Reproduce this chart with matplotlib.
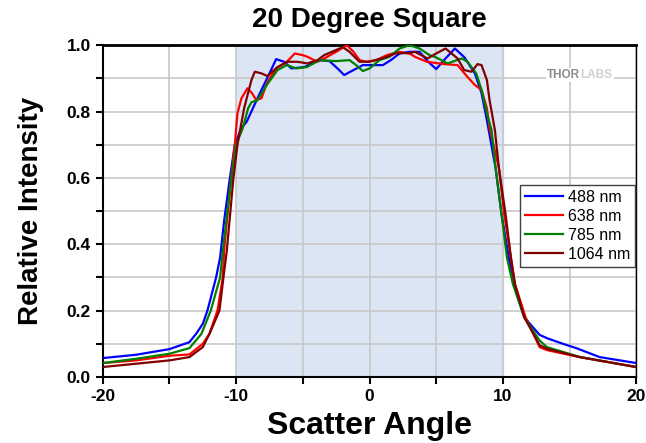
import matplotlib
matplotlib.use('Agg')
import matplotlib.pyplot as plt
from matplotlib.ticker import MultipleLocator, FormatStrFormatter

plt.rcParams['font.family'] = ['Liberation Sans', 'DejaVu Sans']
plt.rcParams['axes.unicode_minus'] = False

# 488 nm
x_488 = [-20, -17.5, -15, -13.5, -13.0, -12.5, -12.15, -11.5, -11.2, -10.9, -10.5, -10.1,
         -9.6, -9.2, -8.4, -7.5, -7.0, -6.4, -5.85, -4.9, -3.75, -3.0, -2.4, -1.9, -1.2,
         -0.5, 1.0, 1.6, 2.25, 3.0, 3.75, 4.4, 5.0, 5.7, 6.4, 7.1, 7.9, 8.4, 8.8, 9.45,
         9.9, 10.4, 10.8, 11.6, 12.75, 13.3, 14.5, 15.5, 17.25, 20]
y_488 = [0.057, 0.067, 0.084, 0.105, 0.13, 0.16, 0.2, 0.30, 0.36, 0.47, 0.59, 0.70,
         0.75, 0.77, 0.84, 0.915, 0.958, 0.95, 0.93, 0.934, 0.955, 0.952, 0.93, 0.91, 0.925,
         0.94, 0.94, 0.955, 0.975, 0.98, 0.98, 0.95, 0.928, 0.96, 0.99, 0.964, 0.915, 0.855, 0.774, 0.63,
         0.49, 0.37, 0.28, 0.18, 0.127, 0.117, 0.10, 0.087, 0.06, 0.042]

# 638 nm
x_638 = [-20, -17.5, -15, -13.5, -12.5, -12.0, -11.4, -11.0, -10.9, -10.5, -10.1, -9.9,
         -9.6, -9.15, -8.8, -8.5, -8.1, -7.7, -7.0, -6.2, -5.6, -5.0, -4.65, -3.9, -3.4,
         -2.5, -1.7, -1.2, -0.75, -0.25, 0.5, 1.3, 2.2, 3.0, 3.4, 4.3, 5.6, 6.6, 7.35, 7.9,
         8.4, 8.8, 9.0, 9.7, 10.1, 10.6, 10.9, 11.7, 12.75, 13.3, 15.75, 20]
y_638 = [0.042, 0.05, 0.064, 0.068, 0.10, 0.13, 0.20, 0.30, 0.38, 0.55, 0.70, 0.795,
         0.84, 0.87, 0.855, 0.835, 0.84, 0.885, 0.93, 0.95, 0.975, 0.97, 0.965, 0.95, 0.96,
         0.98, 1.0, 0.98, 0.955, 0.95, 0.955, 0.97, 0.98, 0.975, 0.965, 0.95, 0.943, 0.94, 0.904, 0.88,
         0.865, 0.81, 0.75, 0.63, 0.49, 0.36, 0.28, 0.18, 0.09, 0.081, 0.06, 0.03]

# 785 nm
x_785 = [-20, -17.5, -15, -13.5, -12.6, -11.9, -11.2, -11.0, -10.35, -10.0, -9.5, -9.1,
         -8.85, -8.4, -7.7, -6.9, -6.2, -5.5, -4.7, -3.75, -2.5, -1.5, -1.0, -0.5, 0.0,
         0.75, 1.5, 2.25, 3.0, 3.75, 4.5, 5.0, 5.85, 6.9, 7.35, 8.0, 8.4, 8.8, 9.15, 9.45,
         9.9, 10.3, 10.75, 11.6, 12.75, 13.3, 15.8, 20]
y_785 = [0.042, 0.055, 0.07, 0.087, 0.13, 0.2, 0.30, 0.38, 0.6, 0.70, 0.75, 0.81,
         0.828, 0.834, 0.88, 0.925, 0.94, 0.93, 0.934, 0.955, 0.952, 0.955, 0.94, 0.922, 0.93,
         0.955, 0.965, 0.99, 1.0, 0.99, 0.97, 0.963, 0.945, 0.96, 0.95, 0.915, 0.865, 0.795, 0.744, 0.63,
         0.49, 0.36, 0.28, 0.18, 0.11, 0.09, 0.06, 0.03]

# 1064 nm
x_1064 = [-20, -17.5, -15, -13.5, -12.5, -12.0, -11.25, -10.95, -10.7, -10.2, -9.9, -9.4,
          -8.85, -8.6, -8.1, -7.65, -6.9, -6.15, -5.4, -4.65, -3.9, -3.4, -2.0, -1.5, -0.75,
          0.0, 1.25, 2.0, 3.0, 3.4, 4.35, 5.0, 5.7, 6.6, 7.1, 7.65, 8.1, 8.4, 8.8, 9.0,
          9.4, 9.7, 10.2, 10.6, 10.9, 11.6, 12.75, 13.3, 15.75, 20]
y_1064 = [0.03, 0.04, 0.05, 0.06, 0.09, 0.13, 0.2, 0.3, 0.38, 0.6, 0.7, 0.81,
          0.895, 0.92, 0.915, 0.907, 0.934, 0.95, 0.95, 0.945, 0.955, 0.97, 0.994, 0.98, 0.95,
          0.95, 0.964, 0.976, 0.976, 0.98, 0.96, 0.975, 0.99, 0.96, 0.925, 0.92, 0.943, 0.94, 0.895, 0.834,
          0.744, 0.63, 0.49, 0.36, 0.28, 0.18, 0.096, 0.085, 0.06, 0.03]

series = [
    (x_488, y_488, '488 nm', '#0000ff'),
    (x_638, y_638, '638 nm', '#ff0000'),
    (x_785, y_785, '785 nm', '#008000'),
    (x_1064, y_1064, '1064 nm', '#800000'),
]

fig = plt.figure(figsize=(6.46, 4.43), dpi=100)
ax = fig.add_axes([0.159, 0.149, 0.826, 0.749])

# shaded +/-10 degree band
ax.axvspan(-10, 10, color='#dce5f4', zorder=0)

for xs, ys, lab, col in series:
    ax.plot(xs, ys, color=col, lw=1.6, label=lab, zorder=3)

ax.set_xlim(-20, 20)
ax.set_ylim(0, 1.0)
ax.xaxis.set_major_locator(MultipleLocator(10))
ax.xaxis.set_minor_locator(MultipleLocator(5))
ax.yaxis.set_major_locator(MultipleLocator(0.2))
ax.yaxis.set_minor_locator(MultipleLocator(0.1))
ax.yaxis.set_major_formatter(FormatStrFormatter('%.1f'))

ax.grid(True, which='both', color='#c8c8c8', lw=1.2, zorder=1)
ax.set_axisbelow(True)
ax.tick_params(which='both', direction='out', width=1.5, length=5, labelsize=12.5)
for lbl in ax.get_xticklabels() + ax.get_yticklabels():
    lbl.set_fontweight('bold')
for sp in ax.spines.values():
    sp.set_linewidth(1.5)
ax.spines['top'].set_linewidth(2.0)
ax.spines['right'].set_linewidth(1.0)

ax.set_title('20 Degree Square', fontsize=20, fontweight='bold', pad=13)
ax.set_xlabel('Scatter Angle', fontsize=23, fontweight='bold', labelpad=5)
ax.set_ylabel('Relative Intensity', fontsize=20, fontweight='bold', labelpad=16)

leg = ax.legend(loc='upper left', bbox_to_anchor=(0.782, 0.578), borderaxespad=0,
                fontsize=11.5, fancybox=False, framealpha=1, edgecolor='#404040',
                handlelength=2.4, handletextpad=0.3, labelspacing=0.25, borderpad=0.3)
leg.get_frame().set_linewidth(1.0)

# watermark
ax.text(0.895, 0.91, 'THOR', transform=ax.transAxes, ha='right', va='center',
        fontsize=8.5, fontweight='bold', color='#8c8c8c', zorder=2,
        bbox=dict(facecolor='white', edgecolor='none', pad=1))
ax.text(0.895, 0.91, 'LABS', transform=ax.transAxes, ha='left', va='center',
        fontsize=8.5, fontweight='bold', color='#d0d0d0', zorder=2,
        bbox=dict(facecolor='white', edgecolor='none', pad=1))

fig.savefig('out.png', dpi=100)
